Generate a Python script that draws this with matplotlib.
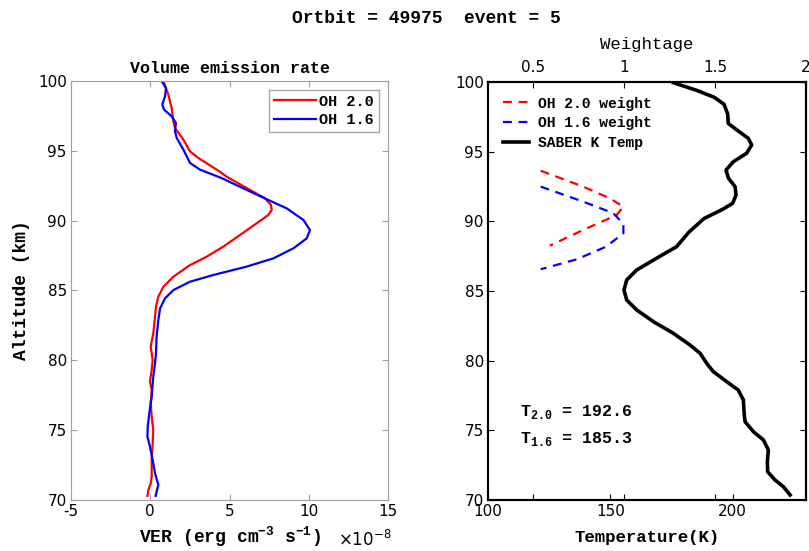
import matplotlib
matplotlib.use("Agg")
import matplotlib.pyplot as plt
import numpy as np

plt.rcParams['axes.unicode_minus'] = False
plt.rcParams['mathtext.fontset'] = 'custom'
plt.rcParams['mathtext.rm'] = 'Liberation Mono:bold'
plt.rcParams['mathtext.bf'] = 'Liberation Mono:bold'
plt.rcParams['mathtext.sf'] = 'DejaVu Sans'

# // VER profiles (x1e-8 erg cm^-3 s^-1) vs altitude (km)
alt_oh20 = [99.98, 99.02, 98.07, 97.11, 96.63, 95.80, 94.96, 94.49, 93.53, 93.15, 92.20, 91.60,
            91.12, 90.76, 90.41, 89.81, 88.97, 88.14, 87.42, 86.82, 85.99, 85.27, 84.56, 83.84,
            83.13, 81.93, 80.98, 80.02, 79.31, 78.47, 77.88, 76.92, 75.97, 75.01, 74.06, 72.86,
            71.67, 71.19, 70.72, 70.29]
ver_oh20 = [0.83, 1.14, 1.35, 1.46, 1.56, 2.09, 2.51, 3.03, 4.36, 4.82, 6.29, 7.24,
            7.62, 7.66, 7.45, 6.71, 5.66, 4.61, 3.56, 2.51, 1.46, 0.83, 0.51, 0.36,
            0.30, 0.19, 0.03, 0.15, 0.09, -0.02, 0.09, 0.03, 0.09, 0.19, 0.15, 0.09,
            0.09, 0.03, -0.12, -0.18]

alt_oh16 = [99.98, 99.50, 98.90, 98.31, 97.95, 97.47, 96.99, 96.40, 95.92, 95.08, 94.13, 93.65,
            93.05, 92.20, 91.48, 90.88, 90.05, 89.33, 88.73, 88.02, 87.30, 86.71, 86.11, 85.63,
            85.03, 84.44, 83.72, 82.89, 81.69, 80.50, 79.79, 78.83, 77.40, 76.21, 75.25, 74.53,
            73.82, 72.86, 71.91, 71.07, 70.60, 70.29]
ver_oh16 = [0.72, 0.99, 0.93, 0.76, 0.87, 1.35, 1.62, 1.56, 1.67, 2.09, 2.51, 3.14,
            4.50, 6.08, 7.45, 8.61, 9.66, 10.08, 9.87, 9.03, 7.77, 6.08, 3.98, 2.51,
            1.46, 0.93, 0.62, 0.51, 0.40, 0.36, 0.30, 0.19, 0.09, -0.06, -0.16, -0.18,
            -0.02, 0.15, 0.30, 0.51, 0.40, 0.34]

# // weighting functions
alt_w20 = [93.63, 92.49, 91.65, 91.05, 90.45, 89.38, 88.25]
w20 = [0.54, 0.774, 0.92, 0.995, 0.958, 0.774, 0.59]
alt_w16 = [92.49, 91.41, 90.58, 89.81, 89.14, 88.18, 87.27, 86.56]
w16 = [0.54, 0.774, 0.94, 0.995, 0.995, 0.90, 0.738, 0.54]

# // SABER kinetic temperature
alt_T = [99.95, 99.40, 98.90, 98.40, 97.70, 97.03, 96.56, 95.96, 95.48, 94.88, 94.28, 93.68,
         93.09, 92.49, 91.89, 91.29, 90.85, 90.20, 89.20, 88.18, 87.35, 86.51, 85.79, 85.07,
         84.35, 83.64, 82.80, 81.96, 81.12, 80.53, 79.81, 79.21, 78.49, 77.89, 77.18, 76.22,
         75.62, 74.90, 74.31, 73.59, 72.75, 72.03, 71.44, 70.96, 70.36]
temp_T = [175.8, 185.3, 192.5, 196.5, 198.0, 198.2, 201.7, 206.4, 207.8, 205.7, 200.3, 197.3,
          198.3, 201.0, 201.4, 200.0, 195.8, 188.3, 182.0, 177.1, 168.9, 160.8, 156.7, 155.6,
          156.7, 160.8, 167.6, 175.8, 182.6, 186.7, 189.4, 192.1, 197.6, 202.3, 204.4, 204.7,
          205.1, 208.5, 212.6, 214.6, 214.2, 214.3, 217.3, 220.7, 223.5]

T20 = 192.6
T16 = 185.3
orbit = 49975
event = 5

mono = 'Liberation Mono'
tickfont = 'DejaVu Sans'

fig = plt.figure(figsize=(8.09, 5.51), dpi=100)

# ---------------- left panel
ax1 = fig.add_axes([0.0878, 0.0926, 0.3918, 0.7604])
ax1.plot(ver_oh20, alt_oh20, color='red', lw=1.6, label='OH 2.0', solid_joinstyle='round')
ax1.plot(ver_oh16, alt_oh16, color='blue', lw=1.6, label='OH 1.6', solid_joinstyle='round')
ax1.set_xlim(-5, 15)
ax1.set_ylim(70, 100)
ax1.set_xticks([-5, 0, 5, 10, 15])
ax1.set_yticks([70, 75, 80, 85, 90, 95, 100])
for s in ax1.spines.values():
    s.set_color('#a0a0a0')
ax1.tick_params(direction='in', top=True, right=True, length=4, color='#a0a0a0',
                labelsize=11, pad=3)
for lab in ax1.get_xticklabels() + ax1.get_yticklabels():
    lab.set_family(tickfont)
ax1.set_title('Volume emission rate', fontfamily=mono, fontsize=12, fontweight='bold', pad=6)
ax1.set_xlabel(r'VER (erg cm$^{\mathbf{-3}}$ s$^{\mathbf{-1}}$)', fontfamily=mono, fontsize=13,
               fontweight='bold', labelpad=4)
ax1.set_ylabel('Altitude (km)', fontfamily=mono, fontsize=13, fontweight='bold', labelpad=6)
leg1 = ax1.legend(loc='upper right', prop={'family': mono, 'weight': 'bold', 'size': 11},
                  fancybox=False, handlelength=2.8, handletextpad=0.2, borderpad=0.3,
                  labelspacing=0.3, borderaxespad=0.6)
leg1.get_frame().set_edgecolor('#909090')
leg1.get_frame().set_linewidth(1.0)
fig.text(0.418, 0.02, r'$\mathsf{\times 10^{-8}}$', fontsize=12, va='center')

# ---------------- right panel
ax2 = fig.add_axes([0.6032, 0.0926, 0.3931, 0.7586])
l3, = ax2.plot(temp_T, alt_T, color='black', lw=2.6, label='SABER K Temp',
               solid_joinstyle='round')
ax2.set_xlim(100, 230)
ax2.set_ylim(70, 100)
ax2.set_xticks([100, 150, 200])
ax2.set_yticks([70, 75, 80, 85, 90, 95, 100])
ax2.set_xlabel('Temperature(K)', fontfamily=mono, fontsize=12.5, fontweight='bold', labelpad=8)
ax2.tick_params(direction='in', top=True, right=True, length=4, labelsize=11, pad=3)
for lab in ax2.get_xticklabels() + ax2.get_yticklabels():
    lab.set_family(tickfont)
for s in ax2.spines.values():
    s.set_linewidth(1.5)

ax3 = ax2.twiny()
l1, = ax3.plot(w20, alt_w20, color='red', ls='--', lw=1.6, dashes=(4, 3), label='OH 2.0 weight')
l2, = ax3.plot(w16, alt_w16, color='blue', ls='--', lw=1.6, dashes=(4, 3), label='OH 1.6 weight')
ax3.set_xlim(0.25, 2)
ax3.set_xticks([0.5, 1, 1.5, 2])
ax3.set_xticklabels(['0.5', '1', '1.5', '2'])
ax3.tick_params(direction='in', top=True, bottom=True, length=4, labelsize=11, pad=5)
for lab in ax3.get_xticklabels():
    lab.set_family(tickfont)
ax3.set_xlabel('Weightage', fontfamily=mono, fontsize=12.5, labelpad=8)
for s in ax3.spines.values():
    s.set_linewidth(1.5)

ax3.legend(handles=[l1, l2, l3], loc='upper left', frameon=False,
           prop={'family': mono, 'weight': 'bold', 'size': 10.5},
           handlelength=1.8, handletextpad=0.6, labelspacing=0.4, borderaxespad=0.6)

ax2.text(113, 76.3, r'T$_{\mathbf{2.0}}$ = %.1f' % T20, fontfamily=mono, fontsize=12,
         fontweight='bold', va='center')
ax2.text(113, 74.4, r'T$_{\mathbf{1.6}}$ = %.1f' % T16, fontfamily=mono, fontsize=12,
         fontweight='bold', va='center')

fig.text(0.527, 0.967, 'Ortbit = %d  event = %d' % (orbit, event), fontfamily=mono,
         fontsize=13, fontweight='bold', ha='center', va='center')

fig.savefig('out.png', dpi=100)
